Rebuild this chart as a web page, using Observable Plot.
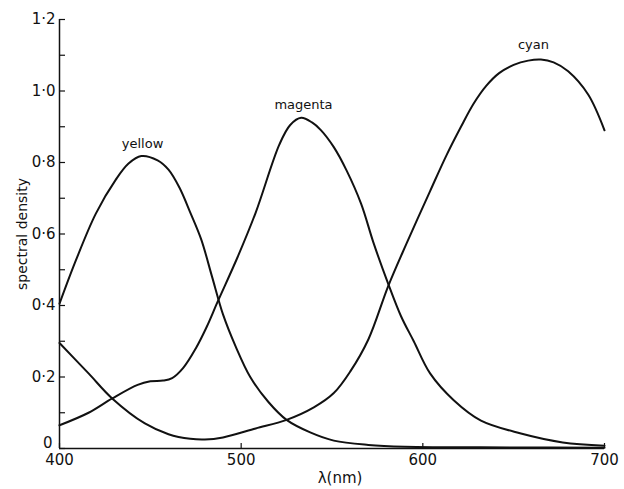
<!DOCTYPE html>
<html>
<head>
<meta charset="utf-8">
<script src="https://cdn.jsdelivr.net/npm/d3@7"></script>
<script src="https://cdn.jsdelivr.net/npm/@observablehq/plot@0.6"></script>
<style>
  html, body { margin: 0; padding: 0; background: #fff; }
  #chart svg { display: block; }
</style>
</head>
<body>
<div id="chart"></div>
<script>
// Yellow dye
const yellowNm  = [400, 409, 420, 431, 438, 445, 454, 460, 466, 472, 478, 484, 490, 497, 505, 515, 525, 538, 551, 570, 590, 650, 700];
const yellowVal = [0.405, 0.526, 0.657, 0.752, 0.797, 0.818, 0.806, 0.78, 0.73, 0.66, 0.585, 0.48, 0.375, 0.285, 0.20, 0.13, 0.08, 0.045, 0.022, 0.01, 0.005, 0.003, 0.002];
// Magenta dye
const magentaNm  = [400, 416, 429, 443, 450, 457, 462, 468, 475, 481, 487, 498, 508, 521, 527, 533, 539, 544, 551, 558, 566, 573, 581, 588, 595, 604, 617, 632, 654, 677, 700];
const magentaVal = [0.065, 0.10, 0.14, 0.178, 0.188, 0.19, 0.197, 0.225, 0.28, 0.34, 0.41, 0.535, 0.66, 0.85, 0.905, 0.925, 0.912, 0.89, 0.843, 0.778, 0.685, 0.573, 0.46, 0.37, 0.30, 0.21, 0.135, 0.078, 0.042, 0.017, 0.008];
// Cyan dye
const cyanNm  = [400, 416, 429, 447, 460, 472, 480, 490, 508, 525, 540, 551, 560, 570, 581, 591, 604, 613, 621, 628, 635, 642, 650, 658, 665, 672, 680, 691, 700];
const cyanVal = [0.295, 0.21, 0.14, 0.07, 0.04, 0.027, 0.025, 0.031, 0.056, 0.08, 0.115, 0.155, 0.215, 0.305, 0.455, 0.573, 0.72, 0.82, 0.90, 0.965, 1.015, 1.05, 1.073, 1.085, 1.088, 1.08, 1.055, 0.99, 0.89];

// Curve labels
const labelNames = ["yellow", "magenta", "cyan"];
const labelNm    = [445.7, 534.3, 660.9];
const labelVal   = [0.853, 0.962, 1.13];

// Axis ticks
const xTicks = [400, 500, 600, 700];
const yMinorTicks = [0, 0.1, 0.2, 0.3, 0.4, 0.5, 0.6, 0.7, 0.8, 0.9, 1.0, 1.1, 1.2];
const yLabelTicks = [0.2, 0.4, 0.6, 0.8, 1.0, 1.2];
const yOriginTick = [0];

const series = [
  ...yellowNm.map((nm, i) => ({dye: "yellow", nm, v: yellowVal[i]})),
  ...magentaNm.map((nm, i) => ({dye: "magenta", nm, v: magentaVal[i]})),
  ...cyanNm.map((nm, i) => ({dye: "cyan", nm, v: cyanVal[i]}))
];
const labels = labelNames.map((name, i) => ({name, nm: labelNm[i], v: labelVal[i]}));

const fmt = d => d === 0 ? "0" : d3.format(".1f")(d).replace(".", "·");

const W = 624, H = 489, ML = 59, MR = 20, MT = 19, MB = 41;
const frameW = W - ML - MR, frameH = H - MT - MB;

const chart = Plot.plot({
  width: W,
  height: H,
  marginLeft: ML,
  marginRight: MR,
  marginTop: MT,
  marginBottom: MB,
  style: {fontFamily: "DejaVu Sans, sans-serif", background: "#fff", color: "#111"},
  x: {domain: [400, 700]},
  y: {domain: [0, 1.2]},
  marks: [
    Plot.ruleX([400], {y1: 0, y2: 1.2, stroke: "#111", strokeWidth: 1.5}),
    Plot.ruleY([0], {x1: 400, x2: 700, stroke: "#111", strokeWidth: 1.5}),
    Plot.tickY(yMinorTicks, {y: d => d, insetRight: frameW - 6, stroke: "#111", strokeWidth: 1.2}),
    Plot.tickX(xTicks, {x: d => d, insetTop: frameH - 5, stroke: "#111", strokeWidth: 1.2}),
    Plot.axisY(yLabelTicks, {tickSize: 0, tickPadding: 4, tickFormat: fmt, fontSize: 15, fill: "#111",
      label: "spectral density", labelAnchor: "center", labelArrow: "none", labelOffset: 42}),
    Plot.axisY(yOriginTick, {tickSize: 0, tickPadding: 7, dy: -5, tickFormat: fmt, fontSize: 15, fill: "#111", label: null}),
    Plot.axisX(xTicks, {tickSize: 0, tickPadding: 6, tickFormat: d => String(d), fontSize: 15, fill: "#111",
      label: "λ(nm)", labelAnchor: "center", labelArrow: "none", labelOffset: 34}),
    Plot.line(series, {x: "nm", y: "v", z: "dye", stroke: "#111", strokeWidth: 2, curve: "catmull-rom"}),
    Plot.text(labels, {x: "nm", y: "v", text: "name", fontSize: 13, fill: "#111"})
  ]
});
chart.querySelectorAll('[aria-label="y-axis label"] text').forEach(t => t.setAttribute("font-size", 14));
chart.querySelectorAll('[aria-label="x-axis label"] text').forEach(t => { t.setAttribute("font-size", 15); t.setAttribute("dx", 8); });
document.getElementById("chart").append(chart);
</script>
</body>
</html>
